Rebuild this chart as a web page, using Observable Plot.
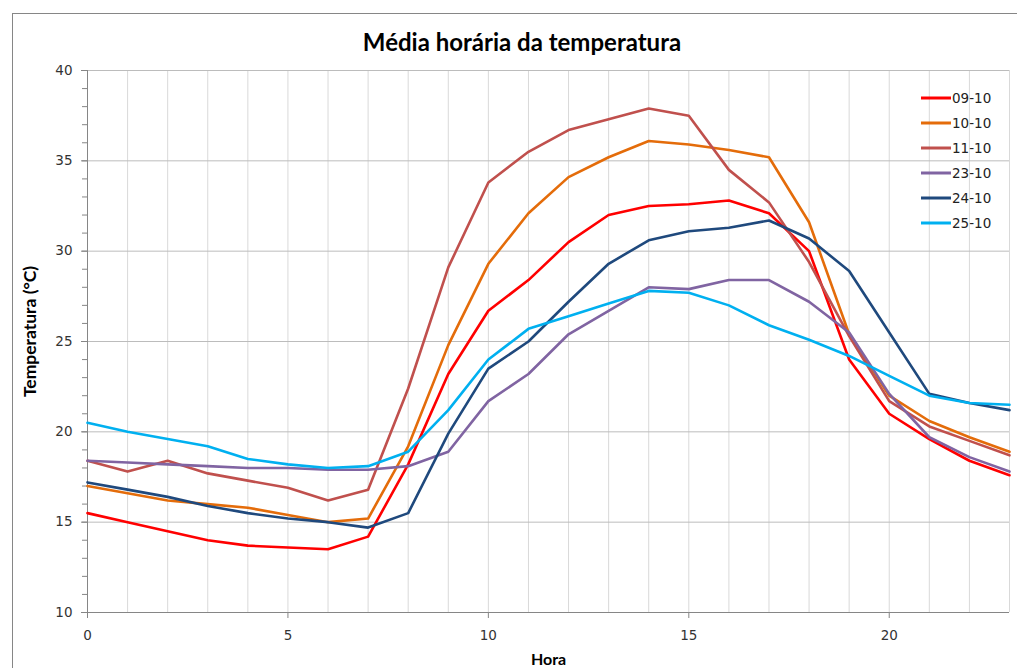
<!DOCTYPE html>
<html lang="pt">
<head>
<meta charset="utf-8">
<script src="https://cdn.jsdelivr.net/npm/d3@7"></script>
<script src="https://cdn.jsdelivr.net/npm/@observablehq/plot@0.6"></script>
<style>
  html, body { margin: 0; padding: 0; background: #fff; overflow: hidden; }
  #page { position: relative; width: 1017px; height: 668px; overflow: hidden; }
  #frame { position: absolute; left: 12px; top: 13px; width: 1100px; height: 800px;
           border-left: 1px solid #868686; border-top: 1px solid #868686; box-sizing: border-box; }
  #chart { position: absolute; left: 0; top: 0; }
  #title { position: absolute; left: 0; width: 1044px; top: 26px; text-align: center;
           font-family: Lato, "Open Sans", sans-serif; font-weight: bold; font-size: 24px; color: #000; line-height: 32px; }
  #legend { position: absolute; left: 921px; top: 85px; font-family: "DejaVu Sans", sans-serif;
            font-size: 13.5px; color: #222; }
  #legend .row { display: flex; align-items: center; height: 25px; }
  #legend svg { margin-right: 1px; }
</style>
</head>
<body>
<div id="page">
  <div id="frame"></div>
  <div id="chart"></div>
  <div id="title">Média horária da temperatura</div>
  <div id="legend"></div>
</div>
<script>
// Hourly mean temperature (°C) for six days
const hours = [0,1,2,3,4,5,6,7,8,9,10,11,12,13,14,15,16,17,18,19,20,21,22,23];
const days = ["09-10", "10-10", "11-10", "23-10", "24-10", "25-10"];
const colors = ["#ff0000", "#e46c0a", "#c0504d", "#8064a2", "#1f497d", "#00b0f0"];

const t0910 = [15.5,15.0,14.5,14.0,13.7,13.6,13.5,14.2,18.2,23.2,26.7,28.4,30.5,32.0,32.5,32.6,32.8,32.1,30.0,24.0,21.0,19.6,18.4,17.6];
const t1010 = [17.0,16.6,16.2,16.0,15.8,15.4,15.0,15.2,19.2,24.8,29.3,32.1,34.1,35.2,36.1,35.9,35.6,35.2,31.6,25.4,22.0,20.6,19.7,18.9];
const t1110 = [18.4,17.8,18.4,17.7,17.3,16.9,16.2,16.8,22.4,29.1,33.8,35.5,36.7,37.3,37.9,37.5,34.5,32.7,29.4,25.3,21.7,20.3,19.5,18.7];
const t2310 = [18.4,18.3,18.2,18.1,18.0,18.0,17.9,17.9,18.1,18.9,21.7,23.2,25.4,26.7,28.0,27.9,28.4,28.4,27.2,25.5,22.1,19.7,18.6,17.8];
const t2410 = [17.2,16.8,16.4,15.9,15.5,15.2,15.0,14.7,15.5,19.9,23.5,25.0,27.2,29.3,30.6,31.1,31.3,31.7,30.7,28.9,25.5,22.1,21.6,21.2];
const t2510 = [20.5,20.0,19.6,19.2,18.5,18.2,18.0,18.1,18.9,21.2,24.0,25.7,26.4,27.1,27.8,27.7,27.0,25.9,25.1,24.2,23.1,22.0,21.6,21.5];

const xMajorTicks = [0, 5, 10, 15, 20];
const yMajorTicks = [10, 15, 20, 25, 30, 35, 40];

const series = [t0910, t1010, t1110, t2310, t2410, t2510];
const rows = days.flatMap((day, i) => hours.map((h, j) => ({day, hora: h, temp: series[i][j]})));

const axisGray = "#868686";

const chart = Plot.plot({
  width: 1017,
  height: 668,
  marginLeft: 87,
  marginRight: 8,
  marginTop: 70,
  marginBottom: 56,
  style: {fontFamily: "'DejaVu Sans', sans-serif", fontSize: "13.5px", color: "#333", background: "transparent"},
  x: {domain: [0, 23]},
  y: {domain: [10, 40]},
  color: {domain: days, range: colors},
  marks: [
    Plot.gridX(hours, {stroke: "#d9d9d9", strokeOpacity: 1}),
    Plot.gridY(yMajorTicks, {stroke: "#bcbcbc", strokeOpacity: 1}),
    Plot.axisY(d3.range(10, 41), {tickSize: 5, tickFormat: () => "", label: null, stroke: axisGray}),
    Plot.axisY(yMajorTicks, {tickSize: 6, tickPadding: 9, label: null, stroke: axisGray, fill: "#333"}),
    Plot.axisX(xMajorTicks, {tickSize: 6, tickPadding: 12, label: null, stroke: axisGray, fill: "#333"}),
    Plot.ruleX([0], {stroke: axisGray}),
    Plot.ruleY([10], {stroke: axisGray}),
    Plot.lineY(rows, {x: "hora", y: "temp", stroke: "day", strokeWidth: 2.6, strokeLinejoin: "round"}),
    Plot.text(["Temperatura (°C)"], {frameAnchor: "left", textAnchor: "middle", dx: -57, dy: -10, rotate: -90,
      fontFamily: "Lato, sans-serif", fontWeight: "bold", fontSize: 17.5, fill: "#000"}),
    Plot.text(["Hora"], {frameAnchor: "bottom", dy: 52,
      fontFamily: "Lato, sans-serif", fontWeight: "bold", fontSize: 16, fill: "#000"})
  ]
});
document.getElementById("chart").append(chart);

// Legend: a short line sample and the day label for each series
const legend = document.getElementById("legend");
days.forEach((day, i) => {
  const row = document.createElement("div");
  row.className = "row";
  row.innerHTML = `<svg width="30" height="6"><line x1="0" x2="30" y1="3" y2="3" stroke="${colors[i]}" stroke-width="3"/></svg><span>${day}</span>`;
  legend.append(row);
});
</script>
</body>
</html>
